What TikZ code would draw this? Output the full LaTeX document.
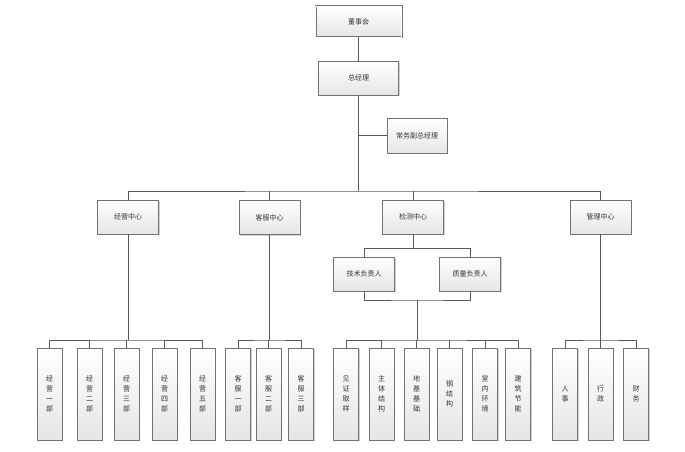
\documentclass[tikz,border=0pt]{standalone}
\usepackage{fontspec}
\newfontfamily\cjk{Noto Sans CJK SC}
\usetikzlibrary{shadows}
\tikzset{
  box/.style={draw=black!55, line width=0.6pt, top color=white, bottom color=black!10,
    drop shadow={shadow xshift=1pt, shadow yshift=-1pt, fill=black!35, opacity=0.5},
    font=\cjk\fontsize{7}{10}\selectfont, text=black!80, inner sep=0pt, align=center},
  hbox/.style={box, minimum width=61pt, minimum height=34pt},
  vbox/.style={box, minimum width=25pt, minimum height=92pt},
  conn/.style={draw=black!65, line width=0.8pt}
}
\begin{document}
\begin{tikzpicture}[x=1pt,y=-1pt]
\useasboundingbox (0,0) rectangle (685,452);
\fill[white] (0,0) rectangle (685,452);
% top
\node[box, minimum width=86pt, minimum height=31pt, double=white, double distance=0.8pt] (dsh) at (358.5,21.5) {董事会};
\node[box, minimum width=80pt, minimum height=34pt] (zjl) at (358.5,78) {总经理};
\node[hbox, minimum width=60pt, minimum height=35pt] (cw) at (417,135.5) {常务副总经理};
% centers
\node[hbox] (jy) at (128,217) {经营中心};
\node[hbox] (kf) at (269.5,217.5) {客服中心};
\node[hbox] (jc) at (413,217) {检测中心};
\node[hbox] (gl) at (600.5,217) {管理中心};
\node[hbox] (js) at (364,274) {技术负责人};
\node[hbox] (zl) at (470,274) {质量负责人};
% bottom
\node[vbox] (a1) at (49.5,394) {经\\营\\一\\部};
\node[vbox] (a2) at (89.5,394) {经\\营\\二\\部};
\node[vbox] (a3) at (126.5,394) {经\\营\\三\\部};
\node[vbox] (a4) at (164.5,394) {经\\营\\四\\部};
\node[vbox] (a5) at (202.5,394) {经\\营\\五\\部};
\node[vbox] (b1) at (238,394) {客\\服\\一\\部};
\node[vbox] (b2) at (268.5,394) {客\\服\\二\\部};
\node[vbox] (b3) at (301,394) {客\\服\\三\\部};
\node[vbox] (c1) at (346,394) {见\\证\\取\\样};
\node[vbox] (c2) at (381.5,394) {主\\体\\结\\构};
\node[vbox] (c3) at (416.5,394) {地\\基\\基\\础};
\node[vbox] (c4) at (449.5,394) {钢\\结\\构};
\node[vbox] (c5) at (485,394) {室\\内\\环\\境};
\node[vbox] (c6) at (518,394) {建\\筑\\节\\能};
\node[vbox] (e1) at (565,394) {人\\事};
\node[vbox] (e2) at (600.5,394) {行\\政};
\node[vbox] (e3) at (636,394) {财\\务};
% coordinates
\coordinate (bus) at (358.5,191);
\coordinate (jcb) at (417,300);
\coordinate (d1) at (128,340);
\coordinate (d2) at (269.5,340);
\coordinate (d3) at (417,340);
\coordinate (d4) at (600.5,340);
% connectors
\begin{scope}[conn]
\draw (dsh.south) -- (zjl.north);
\draw (zjl.south) -- (bus);
\draw (cw.west) -- (cw.west -| zjl.south);
\draw (jy.north) |- (bus) -| (gl.north);
\draw (kf.north) -- (kf.north |- bus);
\draw (jc.north) -- (jc.north |- bus);
\draw (jc.south) -- ++(0,14) -| (js.north);
\draw (jc.south) ++(0,14) -| (zl.north);
\draw (js.south) |- (jcb) -| (zl.south);
\draw (jcb) -- (d3);
\draw (jy.south) -- (d1);
\draw (kf.south) -- (d2);
\draw (gl.south) -- (d4);
\draw (a1.north) |- (d1) -| (a5.north);
\draw (a2.north) -- (a2.north |- d1);
\draw (a3.north) -- (a3.north |- d1);
\draw (a4.north) -- (a4.north |- d1);
\draw (b1.north) |- (d2) -| (b3.north);
\draw (b2.north) -- (b2.north |- d2);
\draw (c1.north) |- (d3) -| (c6.north);
\draw (c2.north) -- (c2.north |- d3);
\draw (c3.north) -- (c3.north |- d3);
\draw (c4.north) -- (c4.north |- d3);
\draw (c5.north) -- (c5.north |- d3);
\draw (e1.north) |- (d4) -| (e3.north);
\draw (e2.north) -- (e2.north |- d4);
\end{scope}
\end{tikzpicture}
\end{document}
